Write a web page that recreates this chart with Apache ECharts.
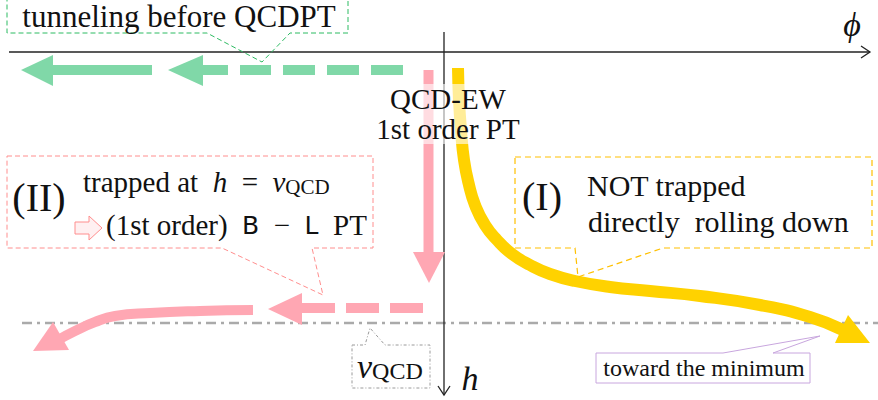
<!DOCTYPE html>
<html>
<head>
<meta charset="utf-8">
<script src="https://cdn.jsdelivr.net/npm/echarts@6/dist/echarts.min.js"></script>
<style>
  html, body { margin: 0; padding: 0; background: #fff; }
  #chart { width: 878px; height: 400px; }
</style>
</head>
<body>
<div id="chart"></div>
<script>
// schematic plane: phi to the right, h downward (same units as the picture)
const phiAxis = [[9, 52], [870, 52]];
const phiTip = [[861, 46], [870, 52], [861, 58]];
const hAxis = [[444, 32], [444, 395]];
const hTip = [[438, 386], [444, 395], [450, 386]];
const vqcdLine = [[22, 323], [878, 323]];

// green: tunneling before QCDPT
const greenDash = [[403, 70], [240, 70]];
const greenShaft1 = [[228, 70], [201, 70]];
const greenHead1 = [[168, 70], [203, 55], [203, 86]];
const greenShaft2 = [[152, 70], [51, 70]];
const greenHead2 = [[21, 70], [53, 55], [53, 86]];

// pink: trapped at v_QCD
const pinkDown = [[428.5, 70], [428.5, 254]];
const pinkDownHead = [[413, 252], [445, 252], [429, 283]];
const pinkDash = [[423, 308], [302, 308]];
const pinkDashHead = [[268, 309], [302, 293], [302, 325]];
const pinkCurve = [[253, 310], [200, 311], [150, 313], [115, 316], [95, 322], [75, 331], [58, 340]];
const pinkCurveHead = [[33, 351], [53, 322], [69, 350]];
const pinkHint = [[75, 222], [89, 222], [89, 216], [102, 228], [89, 240], [89, 234], [75, 234]];

// yellow: directly rolling down
const yellowCurve = [[458, 68], [459, 100], [461, 130], [464, 160], [469, 185], [475, 205], [485, 225],
  [497, 240], [512, 254], [530, 265], [550, 274], [575, 281], [610, 287], [650, 291], [700, 296],
  [760, 305], [810, 317], [843, 330]];
const yellowHead = [[870, 343], [848, 315], [835, 343]];

// callout outlines
const greenBox = [[7, -2], [348, -2], [348, 33], [290, 33], [262, 62], [207, 33], [7, 33]];
const pinkBox = [[7, 156], [373, 156], [373, 248], [312, 248], [323, 295], [222, 248], [7, 248]];
const yellowBox = [[515, 157], [872, 157], [872, 248], [663, 248], [578, 277], [575, 248], [515, 248]];
const vqcdBox = [[352, 345], [365, 345], [370, 328], [385, 345], [430, 345], [430, 388], [352, 388]];
const minBox = [[596, 353], [723, 353], [820, 336], [773, 353], [810, 353], [810, 383], [596, 383]];

// text anchors
const labelPos = {
  tunnel: [179, 16], qcd: [448, 99], pt: [448, 129], two: [39, 197], trapped: [83, 182], bl: [106, 225],
  one: [542, 196], notTrapped: [587, 185], rolling: [588, 221], vqcd: [357, 366],
  toward: [704, 368], phi: [852, 24], h: [470, 378]
};

const SERIF = '"Liberation Serif", "DejaVu Serif", serif';
const SANS = '"DejaVu Sans", "Liberation Sans", sans-serif';
const GREEN = '#80d8a8', PINK = '#ffa7b3', YELLOW = '#ffd200';

const line = (points, color, width, dash, smooth, z) => ({
  type: 'line', data: points, symbol: 'none', silent: true, smooth: smooth || false,
  lineStyle: { color: color, width: width, type: dash || 'solid', cap: 'butt' },
  z: z || 2, animation: false
});

const poly = (points, style, z, open) => ({
  type: 'custom', data: points, silent: true, z: z || 3,
  renderItem: (params, api) => {
    if (params.dataIndex !== 0) return null;
    return {
      type: open ? 'polyline' : 'polygon',
      shape: { points: points.map(p => api.coord(p)) },
      style: style
    };
  }
});

const label = (pos, text, style, z) => ({
  type: 'custom', data: [pos], silent: true, z: z || 6,
  renderItem: (params, api) => {
    const p = api.coord([api.value(0), api.value(1)]);
    return {
      type: 'text', x: p[0], y: p[1],
      style: Object.assign({ text: text, fill: '#111', align: 'left', verticalAlign: 'middle' }, style)
    };
  }
});

const chart = echarts.init(document.getElementById('chart'), null, { renderer: 'svg' });

const veil = { align: 'center', lineHeight: 30, backgroundColor: 'rgba(255,255,255,0.6)', padding: [0, 3, 0, 3] };

const series = [
  line(vqcdLine, '#aaaaaa', 2.5, [10, 5, 3, 5], false, 1),
  line(phiAxis, '#222', 1.3),
  poly(phiTip, { fill: 'none', stroke: '#222', lineWidth: 1.3 }, 3, true),
  line(hAxis, '#222', 1.3),
  poly(hTip, { fill: 'none', stroke: '#222', lineWidth: 1.3 }, 3, true),

  line(greenDash, GREEN, 10, [32, 12]),
  line(greenShaft1, GREEN, 10),
  poly(greenHead1, { fill: GREEN }),
  line(greenShaft2, GREEN, 10),
  poly(greenHead2, { fill: GREEN }),

  line(pinkDown, PINK, 10),
  poly(pinkDownHead, { fill: PINK }),
  line(pinkDash, PINK, 10, [33, 11]),
  poly(pinkDashHead, { fill: PINK }),
  line(pinkCurve, PINK, 10, 'solid', 0.5),
  poly(pinkCurveHead, { fill: PINK }),
  poly(pinkHint, { fill: '#fff0f1', stroke: '#ff8e8e', lineWidth: 1 }, 5),

  line(yellowCurve, YELLOW, 12, 'solid', 0.5),
  poly(yellowHead, { fill: YELLOW }),

  poly(greenBox, { fill: 'none', stroke: '#2dbb62', lineWidth: 1, lineDash: [5, 3] }, 4),
  poly(pinkBox, { fill: 'none', stroke: '#ff8e8e', lineWidth: 1, lineDash: [5, 3] }, 4),
  poly(yellowBox, { fill: 'none', stroke: '#ffc000', lineWidth: 1.2, lineDash: [6, 4] }, 4),
  poly(vqcdBox, { fill: 'none', stroke: '#9a9a9a', lineWidth: 1, lineDash: [3, 2, 1, 2] }, 4),
  poly(minBox, { fill: '#fff', stroke: '#c8a6de', lineWidth: 1 }, 4),

  label(labelPos.tunnel, 'tunneling before QCDPT', { font: '31px ' + SERIF, align: 'center' }),
  label(labelPos.qcd, 'QCD-EW', Object.assign({ font: '29px ' + SERIF }, veil)),
  label(labelPos.pt, '1st order PT', Object.assign({ font: '29px ' + SERIF }, veil)),
  label(labelPos.two, '(II)', { font: '40px ' + SERIF, align: 'center' }),
  label(labelPos.trapped, '{r|trapped at  }{i|h}{r|  =  }{i|v}{s|QCD}', {
    rich: {
      r: { fontSize: 29, fontFamily: SERIF, fill: '#111', lineHeight: 30 },
      i: { fontSize: 29, fontFamily: SERIF, fontStyle: 'italic', fill: '#111', lineHeight: 30 },
      s: { fontSize: 21, fontFamily: SERIF, fill: '#111', lineHeight: 20, verticalAlign: 'bottom' }
    }
  }),
  label(labelPos.bl, '{r|(1st order)  }{b|B}{r|  \u2212  }{b|L}{r|  PT}', {
    rich: {
      r: { fontSize: 29, fontFamily: SERIF, fill: '#111', lineHeight: 30 },
      b: { fontSize: 25, fontFamily: SANS, fill: '#111', lineHeight: 30 }
    }
  }),
  label(labelPos.one, '(I)', { font: '40px ' + SERIF, align: 'center' }),
  label(labelPos.notTrapped, 'NOT trapped', { font: '30px ' + SERIF }),
  label(labelPos.rolling, 'directly  rolling down', { font: '30px ' + SERIF }),
  label(labelPos.vqcd, '{i|v}{s|QCD}', {
    rich: {
      i: { fontSize: 34, fontFamily: SERIF, fontStyle: 'italic', fill: '#111', lineHeight: 34 },
      s: { fontSize: 24, fontFamily: SERIF, fill: '#111', lineHeight: 25, verticalAlign: 'bottom' }
    }
  }),
  label(labelPos.toward, 'toward the minimum', { font: '24px ' + SERIF, align: 'center' }),
  label(labelPos.phi, '\u03d5', { font: 'italic 34px ' + SERIF, align: 'center' }),
  label(labelPos.h, 'h', { font: 'italic 34px ' + SERIF, align: 'center' })
];

chart.setOption({
  animation: false,
  grid: { left: 0, right: 0, top: 0, bottom: 0 },
  xAxis: { type: 'value', min: 0, max: 878, show: false },
  yAxis: { type: 'value', min: 0, max: 400, inverse: true, show: false },
  series: series
});
</script>
</body>
</html>
